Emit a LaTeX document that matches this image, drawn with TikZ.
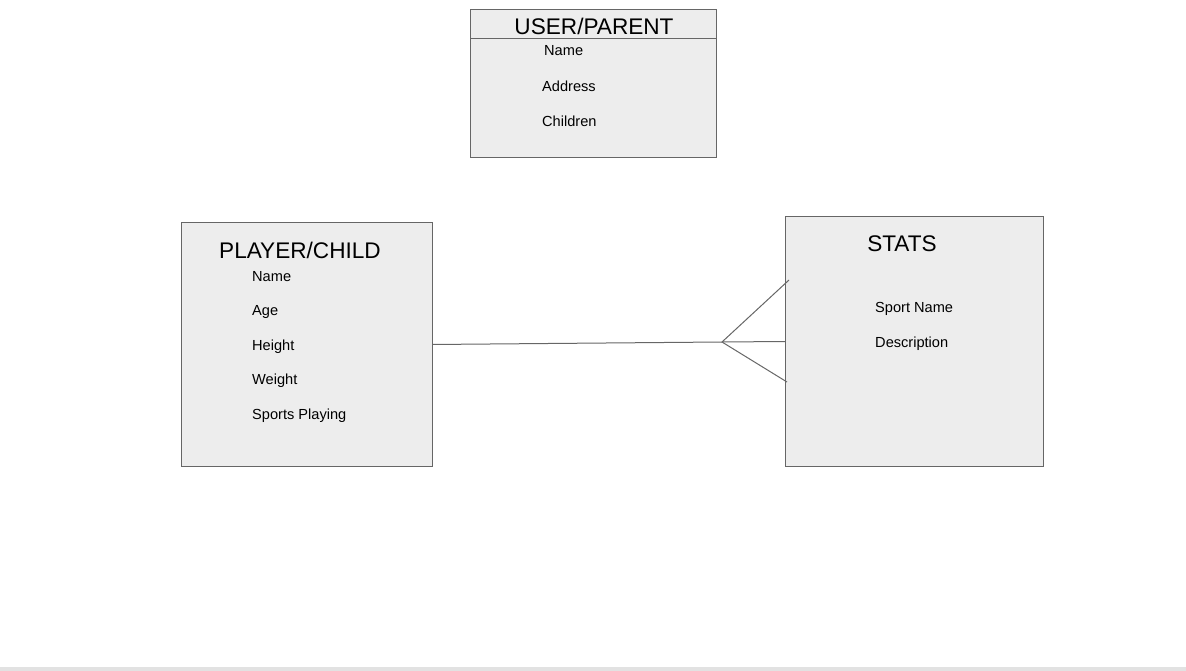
\documentclass[tikz,border=0pt]{standalone}
\usepackage{fontspec}
\setmainfont{Liberation Sans}
\definecolor{erline}{RGB}{102,102,102}
\definecolor{erfill}{RGB}{237,237,237}
\definecolor{erbar}{RGB}{226,226,226}
\usetikzlibrary{positioning}
\tikzset{
  entbox/.style={draw=erline, fill=erfill, line width=1pt, inner sep=0pt, outer sep=0pt, anchor=north west},
  enttitle/.style={font=\fontsize{22.6}{24}\selectfont, inner sep=0pt},
  attr/.style={font=\fontsize{14.6}{17}\selectfont, anchor=west, inner sep=0pt},
  relline/.style={draw=erline, line width=1pt}
}

\begin{document}
\begin{tikzpicture}[x=1pt, y=-1pt]
  \useasboundingbox (0,0) rectangle (1186,671);
  % screenshot strip along the bottom
  \fill[erbar] (0,667) rectangle (1186,671);

  % User / parent entity
  \node[entbox, minimum width=246pt, minimum height=29pt] (parenthead) at (470,10) {};
  \node[entbox, minimum width=246pt, minimum height=119pt] (parent) at (470,39) {};
  \node[enttitle] (parenttitle) at (594,26) {USER/PARENT};
  \node[attr] (pname) at (544,51) {Name};
  \node[attr] (paddress) at (542,86) {Address};
  \node[attr] (pchildren) at (542,121) {Children};

  % Player / child entity
  \node[entbox, minimum width=251pt, minimum height=243pt] (player) at (181,223) {};
  \node[enttitle] (playertitle) at (300,250) {PLAYER/CHILD};
  \node[attr] (cname) at (252,277) {Name};
  \node[attr] (cage) at (252,312) {Age};
  \node[attr] (cheight) at (252,347) {Height};
  \node[attr] (cweight) at (252,381) {Weight};
  \node[attr] (csports) at (252,416) {Sports Playing};

  % Stats entity
  \node[entbox, minimum width=258pt, minimum height=249pt] (stats) at (785,217) {};
  \node[enttitle] (statstitle) at (902,244) {STATS};
  \node[attr] (ssport) at (875,309) {Sport Name};
  \node[attr] (sdesc) at (875,344) {Description};

  % One-to-many relation, crow's foot at the stats side
  \coordinate (foot) at (722,342);
  \coordinate (toeup) at (789,280);
  \coordinate (toedown) at (787,382);
  \draw[relline] (player.east) -- (foot) -- (stats.west);
  \draw[relline] (toeup) -- (foot) -- (toedown);
\end{tikzpicture}
\end{document}
